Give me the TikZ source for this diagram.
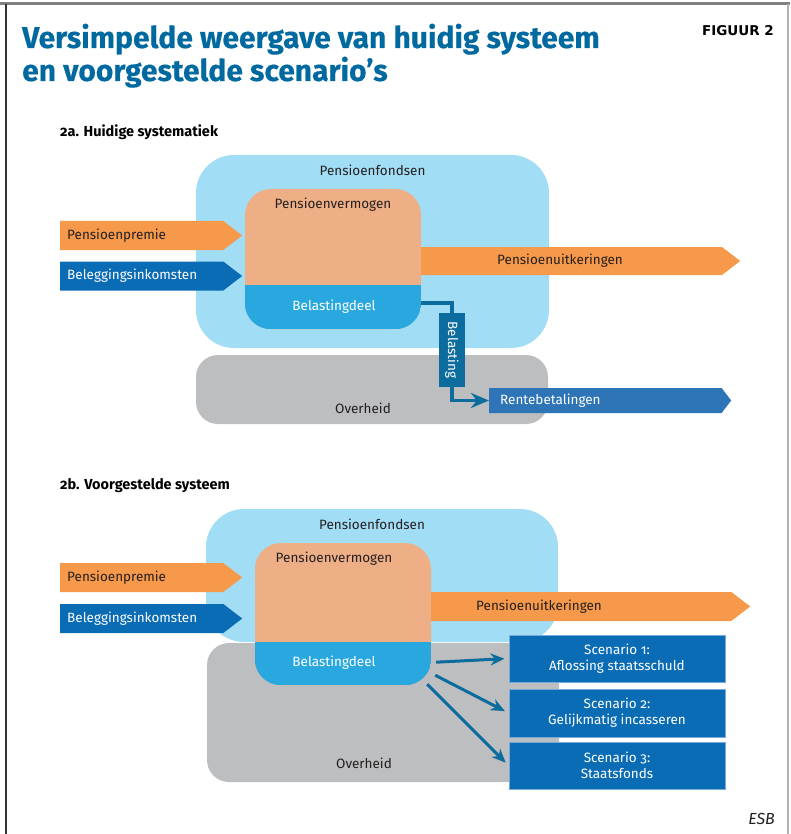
\documentclass[tikz,border=0pt]{standalone}
\usepackage{fontspec}
\setmainfont{Fira Sans}
\newfontfamily\titlefont[FakeBold=0.4]{Fira Sans}
\newfontfamily\figfont{DejaVu Sans}
\usetikzlibrary{calc,positioning,shapes.symbols,arrows.meta}

\definecolor{esbtitle}{RGB}{0,106,160}
\definecolor{fondsblue}{RGB}{162,221,246}
\definecolor{vermtan}{RGB}{238,175,134}
\definecolor{deelblue}{RGB}{41,168,224}
\definecolor{premieorange}{RGB}{247,153,74}
\definecolor{inkomblue}{RGB}{11,108,182}
\definecolor{rentblue}{RGB}{46,117,184}
\definecolor{taxteal}{RGB}{12,108,158}
\definecolor{overheidgray}{RGB}{189,190,192}
\definecolor{labeltext}{RGB}{35,31,32}
\definecolor{scenedge}{RGB}{120,170,220}

\begin{document}
\begin{tikzpicture}[x=1pt,y=-1pt,
  every node/.style={inner sep=0pt,font=\fontsize{13.5}{16}\selectfont,text=labeltext},
  fondsbox/.style={fill=fondsblue,rounded corners=38pt},
  overheidbox/.style={fill=overheidgray,rounded corners=22pt},
  vermogenbox/.style={fill=vermtan,rounded corners=26pt},
  flow/.style={signal,signal to=east,signal pointer angle=75,anchor=west,minimum height=29pt},
  taxbox/.style={fill=taxteal,minimum width=74pt,minimum height=26pt,text=white,rotate=-90},
  taxline/.style={draw=taxteal,line width=3.5pt},
  scenbox/.style={fill=inkomblue,draw=scenedge,line width=1pt,minimum width=216pt,
    minimum height=47pt,text=white,align=center,
    font=\fontsize{13.5}{16}\selectfont\addfontfeatures{Numbers=OldStyle}},
  scenarrow/.style={draw=taxteal,line width=3pt,-{Stealth[length=14pt,width=12pt]},shorten >=4pt},
  kop/.style={anchor=base west,text=black,font=\bfseries\fontsize{14.5}{18}\selectfont\addfontfeatures{Numbers=OldStyle}}
]
\useasboundingbox (0,0) rectangle (790,834);

\draw[gray,line width=3pt] (0,4) -- (790,4);
\draw[black!80,line width=1.5pt] (6,4) -- (6,834);
\draw[gray!60,line width=1.5pt] (788,4) -- (788,834);

\node[anchor=base west,text=esbtitle,font=\titlefont\bfseries\fontsize{30}{34}\selectfont] (titel1) at (22,48) {Versimpelde weergave van huidig systeem};
\node[anchor=base west,text=esbtitle,font=\titlefont\bfseries\fontsize{30}{34}\selectfont] (titel2) at (22,81) {en voorgestelde scenario’s};
\node[anchor=base east,text=black,font=\figfont\bfseries\fontsize{13.5}{16}\selectfont] (figuur) at (774,36) {FIGUUR 2};
\node[kop] (kop2a) at (60,137) {2a. Huidige systematiek};
\node[kop] (kop2b) at (60,489) {2b. Voorgestelde systeem};

\node[fondsbox,minimum width=353pt,minimum height=193pt] (fondsA) at (372.5,251.5) {};
\node[below=10pt of fondsA.north] (fondsAt) {Pensioenfondsen};
\node[overheidbox,minimum width=352pt,minimum height=69pt] (overheidA) at (372,389.5) {};
\node (overheidAt) at ($(overheidA.south)+(-9,-16)$) {Overheid};
\node[vermogenbox,minimum width=176pt,minimum height=140pt] (vermA) at (333,259) {};
\begin{scope}
\clip[rounded corners=26pt] (vermA.north west) rectangle (vermA.south east);
\fill[deelblue] ($(vermA.south west)+(0,-44)$) rectangle (vermA.south east);
\end{scope}
\node (vermAt) at ($(vermA.north)+(0,16)$) {Pensioenvermogen};
\node[text=white] (deelAt) at ($(vermA.south)+(1,-23)$) {Belastingdeel};

\node[flow,fill=premieorange,minimum width=182pt] (premieA) at (60,235.5) {};
\node[right=7pt of premieA.west] (premieAt) {Pensioenpremie};
\node[flow,fill=inkomblue,minimum width=182pt] (inkomA) at (60,276) {};
\node[right=7pt of inkomA.west,text=white] (inkomAt) {Beleggingsinkomsten};
\node[flow,fill=premieorange,minimum width=319pt,minimum height=28pt] (uitkA) at (421,261) {};
\node[right=76pt of uitkA.west] (uitkAt) {Pensioenuitkeringen};
\node[flow,fill=rentblue,signal pointer angle=105,minimum width=242pt,minimum height=25pt] (rentA) at (489,400.5) {};
\node[right=11pt of rentA.west,text=white] (rentAt) {Rentebetalingen};

\node[taxbox] (taxA) at (452,350) {Belasting};
\draw[taxline] ($(vermA.south east)+(0,-26)$) -| (taxA);
\draw[taxline,-{Stealth[length=18pt,width=15pt]}] (taxA) |- (rentA);

\node[fondsbox,minimum width=352pt,minimum height=133pt] (fondsB) at (382,575.5) {};
\node (fondsBt) at ($(fondsB.north)+(-10,16)$) {Pensioenfondsen};
\node[overheidbox,minimum width=352pt,minimum height=139pt] (overheidB) at (383,712.5) {};
\node (overheidBt) at ($(overheidB.south)+(-19,-19)$) {Overheid};
\node[vermogenbox,minimum width=176pt,minimum height=142pt] (vermB) at (343,614) {};
\begin{scope}
\clip[rounded corners=26pt] (vermB.north west) rectangle (vermB.south east);
\fill[deelblue] ($(vermB.south west)+(0,-43)$) rectangle (vermB.south east);
\end{scope}
\node (vermBt) at ($(vermB.north)+(-9,16)$) {Pensioenvermogen};
\node[text=white] (deelBt) at ($(vermB.south)+(-9,-23)$) {Belastingdeel};

\node[flow,fill=premieorange,minimum width=182pt] (premieB) at (60,577.5) {};
\node[right=7pt of premieB.west] (premieBt) {Pensioenpremie};
\node[flow,fill=inkomblue,minimum width=182pt] (inkomB) at (60,618.5) {};
\node[right=7pt of inkomB.west,text=white] (inkomBt) {Beleggingsinkomsten};
\node[flow,fill=premieorange,minimum width=319pt] (uitkB) at (431,606.5) {};
\node[right=45pt of uitkB.west] (uitkBt) {Pensioenuitkeringen};

\node[scenbox] (scen1) at (617,658.5) {Scenario 1:\\Aflossing staatsschuld};
\node[scenbox,minimum height=48pt] (scen2) at (617,713) {Scenario 2:\\Gelijkmatig incasseren};
\node[scenbox] (scen3) at (617,765.5) {Scenario 3:\\Staatsfonds};

\coordinate (uit1) at ($(vermB.south east)+(5,-23)$);
\coordinate (uit2) at ($(vermB.south east)+(4,-10)$);
\coordinate (uit3) at ($(vermB.south east)+(-4,-1)$);
\draw[scenarrow] (uit1) -- (scen1.west);
\draw[scenarrow] (uit2) -- (scen2.west);
\draw[scenarrow] (uit3) -- (scen3.west);

\node[anchor=base east,font=\itshape\fontsize{16}{18}\selectfont] (esb) at (775,824) {ESB};
\end{tikzpicture}
\end{document}
